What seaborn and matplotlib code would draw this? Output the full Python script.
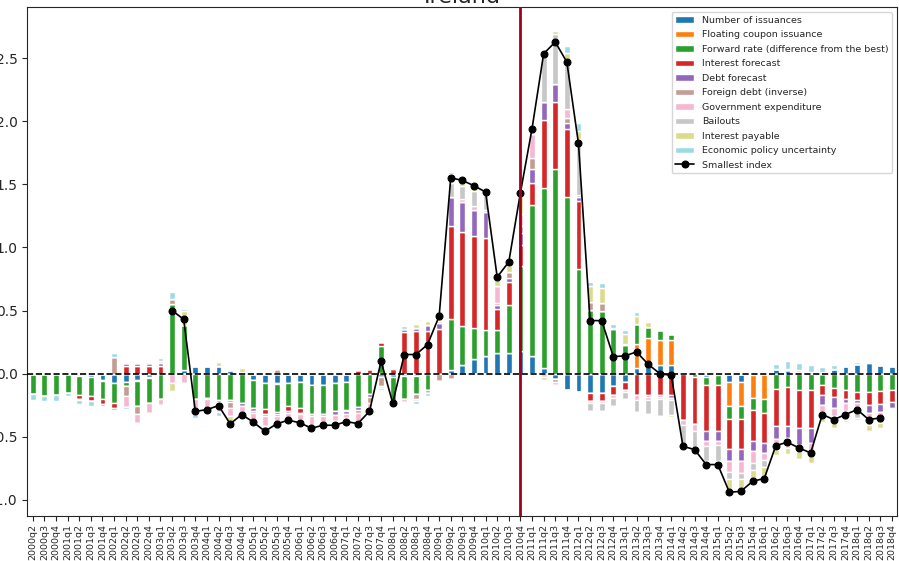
import numpy as np
import pandas as pd
import matplotlib
matplotlib.use("Agg")
import matplotlib.pyplot as plt
import seaborn as sns

# quarters 2000q2 .. 2018q4
quarters = [f"{y}q{q}" for y in range(2000, 2019) for q in range(1, 5)][1:]

issuances = [0, 0, 0, 0, -0.02, -0.025, -0.053, -0.074, -0.066, -0.053,
             -0.03, 0, 0, 0.026, 0.058, 0.058, 0.06, 0.03, 0.01, -0.05,
             -0.074, -0.074, -0.074, -0.066, -0.093, -0.093, -0.074, -0.066, 0, 0,
             -0.025, -0.03, -0.02, -0.02, 0, 0, 0.03, 0.07, 0.116, 0.138,
             0.164, 0.16, 0.177, 0.138, 0.045, -0.045, -0.127, -0.15, -0.153, -0.153,
             -0.1, -0.066, 0.045, 0.079, 0.066, 0.066, 0, 0.01, -0.026, -0.013,
             -0.066, -0.066, -0.01, 0, 0.04, 0.026, 0.01, 0, 0, 0.04,
             0.061, 0.079, 0.087, 0.066, 0.061]
floating = [0, 0, 0, 0, 0, -0.005, -0.005, 0, 0, -0.005,
            -0.005, 0, 0, 0, 0, 0, 0, 0, 0, 0,
            0, -0.005, 0, 0, 0, 0, 0, 0, 0, 0,
            0.005, 0, 0, 0, -0.005, 0, 0, 0, 0, 0,
            0, 0, 0, 0, 0, 0, 0, 0, 0, 0,
            0, 0, 0.193, 0.2, 0.198, 0.198, 0.005, 0, 0, 0,
            -0.188, -0.188, -0.183, -0.2, 0, 0, 0, 0.01, 0, 0,
            0, 0, 0.005, 0.005, 0]
forward = [-0.16, -0.175, -0.17, -0.155, -0.15, -0.15, -0.145, -0.16, -0.034, -0.2,
           -0.2, -0.2, 0.55, 0.36, -0.2, -0.19, -0.21, -0.21, -0.233, -0.22,
           -0.206, -0.226, -0.185, -0.205, -0.224, -0.224, -0.225, -0.22, -0.267, -0.16,
           0.21, -0.19, -0.18, -0.145, -0.125, 0, 0.40, 0.31, 0.243, 0.206,
           0.185, 0.38, 0.675, 1.203, 1.429, 1.619, 1.402, 0.831, 0.508, 0.497,
           0.357, 0.225, 0.153, 0.092, 0.079, 0.053, 0, -0.03, -0.067, -0.08,
           -0.106, -0.106, -0.098, -0.111, -0.119, -0.106, -0.132, -0.127, -0.093, -0.111,
           -0.132, -0.146, -0.146, -0.138, -0.132]
interest = [0, 0, 0, 0, -0.035, -0.037, -0.037, -0.04, 0.06, 0.06,
            0.06, 0.06, 0, 0, 0, 0, -0.015, 0, 0, 0,
            -0.037, -0.015, -0.04, -0.04, 0, 0, 0, -0.01, 0.026, 0.035,
            0.035, 0.035, 0.33, 0.336, 0.336, 0.35, 0.74, 0.741, 0.735, 0.733,
            0.165, 0.19, 0.164, 0.172, 0.534, 0.534, 0.54, 0.537, -0.066, -0.066,
            -0.071, -0.066, -0.172, -0.172, -0.172, -0.172, -0.37, -0.37, -0.365, -0.365,
            -0.238, -0.238, -0.241, -0.238, -0.299, -0.307, -0.299, -0.304, -0.074, -0.074,
            -0.069, -0.066, -0.1, -0.1, -0.096]
debt = [0, 0, 0, 0, 0, 0, -0.016, -0.014, 0.02, 0.02,
        0.02, 0.02, 0, 0, 0, -0.01, 0, -0.016, -0.026, -0.025,
        -0.016, -0.02, -0.013, -0.01, -0.016, -0.016, -0.026, -0.026, -0.026, -0.025,
        0, 0.01, 0.026, 0.026, 0.048, 0.05, 0.233, 0.238, 0.206, 0.204,
        0.027, 0.025, 0.1, 0.106, 0.145, 0.14, 0.042, 0.034, 0, 0,
        0.008, 0.013, 0, -0.01, -0.01, -0.018, 0, 0, -0.074, -0.074,
        -0.098, -0.098, -0.085, -0.085, -0.101, -0.098, -0.132, -0.119, -0.079, -0.087,
        -0.032, -0.021, -0.066, -0.069, -0.044]
foreign = [0, 0, 0, 0, -0.008, 0, 0, 0.13, -0.08, -0.061,
           0, 0.02, 0.04, 0, 0, 0, 0, -0.045, 0, -0.02,
           0, 0.035, 0, 0, 0, 0, 0, 0, -0.02, -0.045,
           -0.07, 0, 0, -0.04, -0.025, -0.06, -0.045, -0.01, 0, 0,
           0.02, 0.053, 0.053, 0.093, 0, -0.021, 0.045, 0.018, 0.061, 0.063,
           0, 0, 0, 0, 0, 0, 0.01, 0, 0, 0,
           0, 0, 0, 0, 0, 0.013, 0.015, 0, 0.01, 0,
           0, 0, 0, 0, -0.013]
expenditure = [0, 0, 0, 0, 0, 0, -0.01, -0.006, -0.082, -0.07,
               -0.077, -0.048, -0.075, -0.074, -0.08, -0.07, -0.08, -0.066, -0.08, -0.06,
               -0.08, -0.07, -0.05, -0.045, -0.08, -0.058, -0.053, -0.03, -0.066, -0.06,
               -0.02, -0.02, -0.025, -0.015, 0, 0.02, 0, 0.026, 0.026, 0.014,
               0.135, 0, 0.093, 0.185, -0.025, -0.024, 0.071, 0, -0.015, -0.018,
               -0.026, -0.013, -0.04, -0.03, -0.02, -0.02, -0.04, -0.055, -0.045, -0.031,
               -0.087, -0.09, -0.093, -0.053, -0.084, -0.079, -0.053, -0.093, -0.066, -0.066,
               -0.066, -0.047, -0.053, -0.045, 0]
bailouts = [0, 0, 0, 0, 0, 0, 0, 0, 0, 0,
            0, 0, 0, 0, 0, 0, 0, 0, 0, 0,
            0, 0, 0, 0, 0, 0, 0, 0, 0, 0,
            0, 0, 0, 0, 0, 0, 0.111, 0.106, 0.119, 0.127,
            0, 0, 0, 0, 0.405, 0.397, 0.378, 0.437, -0.065, -0.06,
            -0.058, -0.06, -0.09, -0.11, -0.138, -0.12, -0.145, -0.14, -0.119, -0.133,
            -0.05, -0.048, -0.053, -0.053, 0, 0, 0, 0, -0.04, -0.053,
            -0.066, -0.071, -0.04, -0.04, 0]
payable = [0, 0, 0, 0, 0, 0, 0, 0, 0, 0,
           0, 0, -0.06, 0.11, -0.02, -0.02, 0.035, -0.048, 0.035, 0,
           0, 0, 0, 0, 0, 0, 0.005, 0, 0.01, 0,
           0, 0, 0, 0.03, 0.03, 0.05, 0.066, 0.048, 0.034, 0.02,
           0.06, 0.053, 0.16, 0.04, -0.03, 0.026, 0.066, 0.066, 0.124, 0.122,
           0, 0.079, 0.066, 0.035, 0, -0.013, -0.015, 0, -0.025, -0.027,
           -0.1, -0.098, -0.093, -0.093, -0.04, -0.045, -0.061, -0.066, -0.034, -0.04,
           -0.021, -0.018, -0.053, -0.039, 0]
uncertainty = [-0.05, -0.045, -0.05, -0.025, -0.03, -0.04, -0.01, 0.03, -0.02, -0.013,
               0.01, 0.02, 0.06, 0.02, -0.05, -0.03, -0.035, -0.04, -0.02, -0.015,
               -0.03, -0.03, 0, -0.02, -0.02, -0.02, -0.026, -0.02, -0.04, -0.03,
               -0.015, -0.02, 0.02, -0.02, -0.02, 0.03, 0.019, 0, -0.01, -0.015,
               0, 0.02, 0.01, 0, 0, 0.013, 0.053, 0.061, 0.035, 0.037,
               0.025, 0.032, 0.032, 0, 0, 0.008, 0, 0, 0, 0,
               0, 0, 0, 0, 0.034, 0.061, 0.06, 0.06, 0.04, 0.026,
               0.004, 0.013, 0, 0, 0]

# smallest index, 2003q2 .. 2018q3
smallest_index = [np.nan] * 12 + [
    0.5, 0.43, -0.3, -0.286, -0.254, -0.399, -0.325, -0.386,
    -0.458, -0.399, -0.37, -0.39, -0.434, -0.41, -0.41, -0.381, -0.397, -0.299,
    0.098, -0.233, 0.151, 0.151, 0.23, 0.455, 1.553, 1.532, 1.49, 1.44,
    0.765, 0.886, 1.434, 1.942, 2.537, 2.63, 2.471, 1.825, 0.42, 0.42,
    0.135, 0.14, 0.172, 0.074, 0.0, -0.015, -0.577, -0.603, -0.722, -0.722,
    -0.942, -0.934, -0.854, -0.833, -0.571, -0.545, -0.59, -0.63, -0.325, -0.365,
    -0.325, -0.286, -0.365, -0.352] + [np.nan]

labels = ["Number of issuances", "Floating coupon issuance",
          "Forward rate (difference from the best)", "Interest forecast",
          "Debt forecast", "Foreign debt (inverse)", "Government expenditure",
          "Bailouts", "Interest payable", "Economic policy uncertainty"]
colors = ["#1f77b4", "#ff7f0e", "#2ca02c", "#d62728", "#9467bd",
          "#c49c94", "#f7b6d2", "#c7c7c7", "#dbdb8d", "#9edae5"]
series = [issuances, floating, forward, interest, debt, foreign,
          expenditure, bailouts, payable, uncertainty]

sns.set_style("ticks")
plt.rcParams["font.family"] = ["DejaVu Sans"]

fig = plt.figure(figsize=(8.99, 5.61), dpi=100)
ax = fig.add_axes([0.0304, 0.0802, 0.9673, 0.9067])

x = np.arange(len(quarters))
pos_base = np.zeros(len(x))
neg_base = np.zeros(len(x))
handles = []
for label, vals, color in zip(labels, series, colors):
    v = np.asarray(vals, dtype=float)
    pos = np.where(v > 0, v, 0)
    neg = np.where(v < 0, v, 0)
    bars = ax.bar(x, pos, 0.5, bottom=pos_base, color=color, label=label)
    ax.bar(x, neg, 0.5, bottom=neg_base, color=color)
    pos_base += pos
    neg_base += neg
    handles.append(bars)

idx_df = pd.DataFrame({"x": x, "y": smallest_index}).dropna()
sns.lineplot(data=idx_df, x="x", y="y", ax=ax, color="black", marker="o",
             markersize=5, markeredgecolor="black", linewidth=1.2,
             label="Smallest index", legend=False, zorder=6)

ax.axhline(0, color="black", ls="--", lw=1.2, zorder=5)
ax.axvline(quarters.index("2010q4"), color="#a0001e", lw=2, zorder=7)

ax.set_xlim(-0.47, 74.43)
ax.set_ylim(-1.13, 2.905)
ax.set_xticks(x)
ax.set_xticklabels(quarters, rotation=90, fontsize=6.8)
ax.tick_params(axis="x", pad=2)
ax.set_yticks(np.arange(-1.0, 2.51, 0.5))
ax.tick_params(axis="y", labelsize=10)
ax.set_xlabel("")
ax.set_ylabel("")
ax.set_title("Ireland", fontsize=16, pad=3)

line_handle = ax.get_lines()[0]
ax.legend(handles + [line_handle], labels + ["Smallest index"],
          loc="upper right", fontsize=6.8, labelspacing=0.58, frameon=True)

fig.savefig("out.png", dpi=100)
